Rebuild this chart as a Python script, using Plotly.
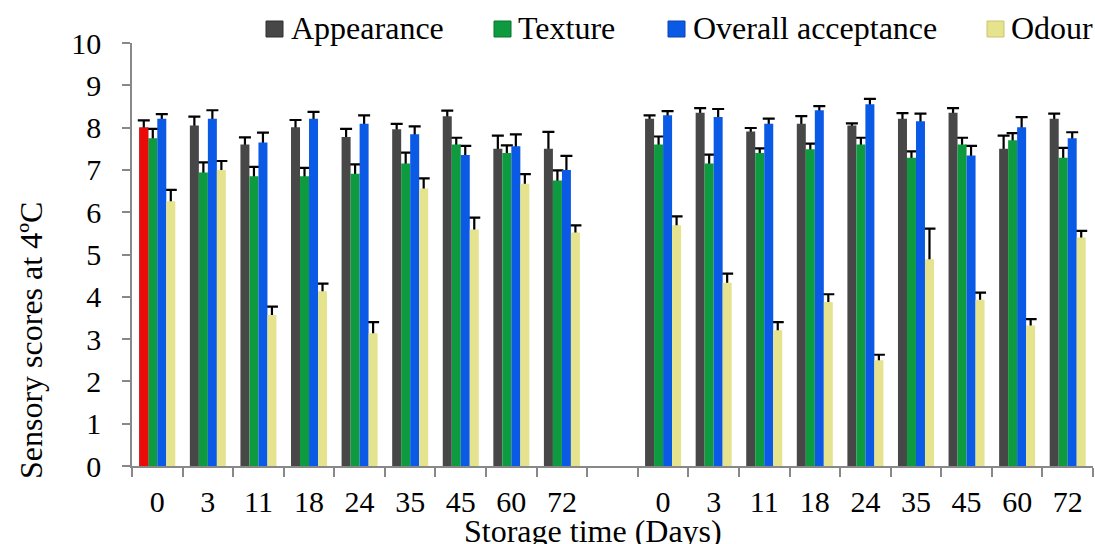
import plotly.graph_objects as go

days = ["0", "3", "11", "18", "24", "35", "45", "60", "72"]
series_names = ["Appearance", "Texture", "Overall acceptance", "Odour"]

appearance_a = [8.0, 8.05, 7.6, 8.01, 7.78, 7.96, 8.27, 7.5, 7.5]
appearance_b = [8.21, 8.35, 7.91, 8.09, 8.05, 8.21, 8.35, 7.5, 8.21]
appearance_err_a = [0.17, 0.21, 0.17, 0.17, 0.19, 0.13, 0.13, 0.31, 0.4]
appearance_err_b = [0.08, 0.11, 0.08, 0.18, 0.05, 0.13, 0.11, 0.31, 0.12]

texture_a = [7.75, 6.94, 6.85, 6.85, 6.91, 7.15, 7.6, 7.4, 6.75]
texture_b = [7.6, 7.15, 7.4, 7.49, 7.6, 7.29, 7.6, 7.7, 7.29]
texture_err_a = [0.22, 0.24, 0.22, 0.2, 0.22, 0.26, 0.16, 0.18, 0.24]
texture_err_b = [0.19, 0.21, 0.11, 0.13, 0.16, 0.15, 0.16, 0.17, 0.23]

overall_a = [8.21, 8.21, 7.65, 8.21, 8.09, 7.84, 7.35, 7.56, 7.0]
overall_b = [8.29, 8.25, 8.09, 8.41, 8.55, 8.15, 7.34, 8.01, 7.75]
overall_err_a = [0.11, 0.2, 0.23, 0.16, 0.2, 0.19, 0.22, 0.28, 0.33]
overall_err_b = [0.1, 0.19, 0.12, 0.1, 0.13, 0.18, 0.23, 0.24, 0.14]

odour_a = [6.26, 7.0, 3.57, 4.13, 3.14, 6.56, 5.59, 6.67, 5.52]
odour_b = [5.69, 4.33, 3.21, 3.88, 2.5, 4.89, 3.93, 3.32, 5.4]
odour_err_a = [0.27, 0.21, 0.2, 0.18, 0.26, 0.24, 0.28, 0.23, 0.17]
odour_err_b = [0.21, 0.22, 0.19, 0.18, 0.13, 0.72, 0.17, 0.15, 0.16]

colors = ["#474747", "#0e9a3e", "#0a5ae6", "#e6e38e"]
edge_colors = ["#2e2e2e", "#0a7430", "#0844b0", "#c9c56e"]
first_bar_color = "#ea0a0a"

# category keys: first series of days, an empty gap slot, second series
cats = ["a" + d for d in days] + ["gap"] + ["b" + d for d in days]
tick_text = days + [""] + days


def join(a, b):
    return list(a) + [None] + list(b)


values = [
    (join(appearance_a, appearance_b), join(appearance_err_a, appearance_err_b)),
    (join(texture_a, texture_b), join(texture_err_a, texture_err_b)),
    (join(overall_a, overall_b), join(overall_err_a, overall_err_b)),
    (join(odour_a, odour_b), join(odour_err_a, odour_err_b)),
]

fig = go.Figure()

# error bars (upper side only): carried by transparent bars drawn first;
# the lower end is pushed below the axis (clipped away) and the visible
# bars drawn afterwards hide the stem inside each bar
for name, (vals, errs) in zip(series_names, values):
    fig.add_trace(go.Bar(
        x=cats, y=vals, offsetgroup=name, showlegend=False, hoverinfo="skip",
        cliponaxis=True,
        marker=dict(color="rgba(0,0,0,0)", line=dict(width=0)),
        error_y=dict(type="data", array=errs,
                     arrayminus=[v + 1 if v is not None else None for v in vals],
                     symmetric=False, color="black", thickness=2.2, width=6),
    ))

for i, (name, (vals, errs)) in enumerate(zip(series_names, values)):
    fig.add_trace(go.Bar(
        name=name, x=cats, y=vals, offsetgroup=name, showlegend=False,
        marker=dict(color=colors[i], line=dict(width=0)),
    ))

# first appearance bar highlighted in red
fig.add_trace(go.Bar(
    x=[cats[0]], y=[appearance_a[0]], offsetgroup=series_names[0],
    showlegend=False, marker=dict(color=first_bar_color, line=dict(width=0)),
))

W, H = 1095, 544
L, R, T, B = 132, 2, 43, 78
pw, ph = W - L - R, H - T - B


def px_x(x):
    return (x - L) / pw


def px_y(y):
    return (H - B - y) / ph


font_family = "Liberation Serif, Times New Roman, serif"

# legend (top row): symbol squares and labels
legend_sym_x = [266, 494, 668, 987]
legend_txt_x = [289, 516, 691, 1009]
shapes = []
annotations = []
for i, name in enumerate(series_names):
    shapes.append(dict(type="rect", xref="paper", yref="paper",
                       x0=px_x(legend_sym_x[i]), x1=px_x(legend_sym_x[i] + 17),
                       y0=px_y(37), y1=px_y(21),
                       fillcolor=colors[i], line=dict(color=edge_colors[i], width=1)))
    annotations.append(dict(text=name, xref="paper", yref="paper",
                            x=px_x(legend_txt_x[i]), y=px_y(27.5),
                            xanchor="left", yanchor="middle", showarrow=False,
                            font=dict(size=32, family=font_family)))

annotations += [
    dict(text="Storage time (Days)", xref="paper", yref="paper",
         x=px_x(593), y=px_y(530.5), xanchor="center", yanchor="middle",
         showarrow=False, font=dict(size=32, family=font_family)),
    dict(text="Sensory scores at 4ºC", xref="paper", yref="paper",
         x=px_x(31), y=px_y(341), xanchor="center", yanchor="middle",
         textangle=-90, showarrow=False, font=dict(size=32, family=font_family)),
]

fig.update_layout(
    width=W, height=H,
    margin=dict(l=L, r=R, t=T, b=B, pad=0),
    paper_bgcolor="white", plot_bgcolor="white",
    barmode="group", bargap=0.288, bargroupgap=0,
    font=dict(family=font_family, color="black", size=30),
    showlegend=False,
    xaxis=dict(type="category", tickmode="array", tickvals=cats, ticktext=tick_text,
               tickson="boundaries", ticks="outside", ticklen=9, tickwidth=1.5,
               tickcolor="#888888", showline=True, linecolor="#888888", linewidth=1.5,
               showgrid=False, zeroline=False, ticklabelstandoff=8,
               tickfont=dict(size=30, family=font_family)),
    yaxis=dict(range=[0, 10], tickmode="linear", tick0=0, dtick=1,
               ticks="outside", ticklen=8, tickwidth=1.5, tickcolor="#888888",
               showline=True, linecolor="#888888", linewidth=1.5,
               showgrid=False, zeroline=False, ticklabelstandoff=15,
               tickfont=dict(size=30, family=font_family)),
    shapes=shapes,
    annotations=annotations,
)

fig.write_html("out.html")
